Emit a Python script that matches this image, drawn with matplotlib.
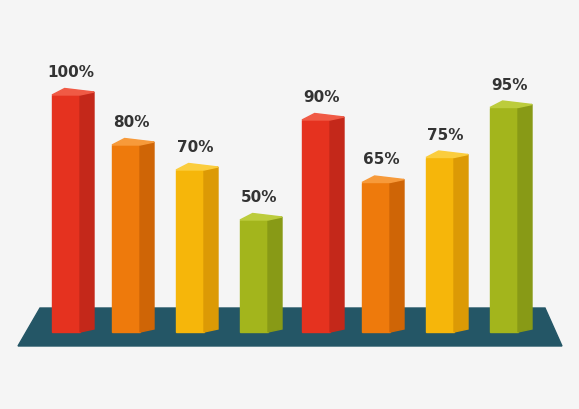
import matplotlib
matplotlib.use("Agg")
import matplotlib.pyplot as plt
from matplotlib.patches import Polygon

values = [100, 80, 70, 50, 90, 65, 75, 95]
labels = ["100%", "80%", "70%", "50%", "90%", "65%", "75%", "95%"]
front_colors = ["#e5321f", "#ee7a0c", "#f6b60a", "#a3b51c", "#e5321f", "#ee7a0c", "#f6b60a", "#a3b51c"]
side_colors = ["#c4281a", "#cf6506", "#dc9a05", "#889a16", "#c4281a", "#cf6506", "#dc9a05", "#889a16"]
cap_colors = ["#f05a45", "#f79a3a", "#fbcd3d", "#bccc3c", "#f05a45", "#f79a3a", "#fbcd3d", "#bccc3c"]
xpos = [52, 112, 176, 240, 302, 362, 426, 490]

S = 2.5  # px per value unit
BASE = 6
W, SD = 28, 14
def py(p):  # pixel y -> data value
    return BASE + (330 - p) / S

fig = plt.figure(figsize=(5.79, 4.09), dpi=100)
fig.patch.set_facecolor("#f5f5f5")
ax = fig.add_axes([0, 0, 1, 1])
ax.set_xlim(0, 579)
ax.set_ylim(py(409), py(0))
ax.axis("off")

ax.add_patch(Polygon([(40, py(308)), (545, py(308)), (562, py(346)), (18, py(346))],
                     closed=True, color="#245666", zorder=1))

for v, lab, fc, sc, cc, x in zip(values, labels, front_colors, side_colors, cap_colors, xpos):
    b = py(332)
    ax.add_patch(Polygon([(x, b), (x + W, b), (x + W, v), (x, v)], color=fc, zorder=2))
    ax.add_patch(Polygon([(x + W, b), (x + W + SD, b + 1.2), (x + W + SD, v + 1.2), (x + W, v)], color=sc, zorder=2))
    ax.add_patch(Polygon([(x, v), (x + W * 0.45, v + 2.6), (x + W + SD, v + 1.2), (x + W, v)], color=cc, zorder=3))
    ax.text(x + (W + SD) / 2 - 2, v + 6, lab, ha="center", va="bottom",
            fontsize=11, fontweight="bold", color="#333333", zorder=4)

fig.savefig("out.png", dpi=100, facecolor=fig.get_facecolor())
